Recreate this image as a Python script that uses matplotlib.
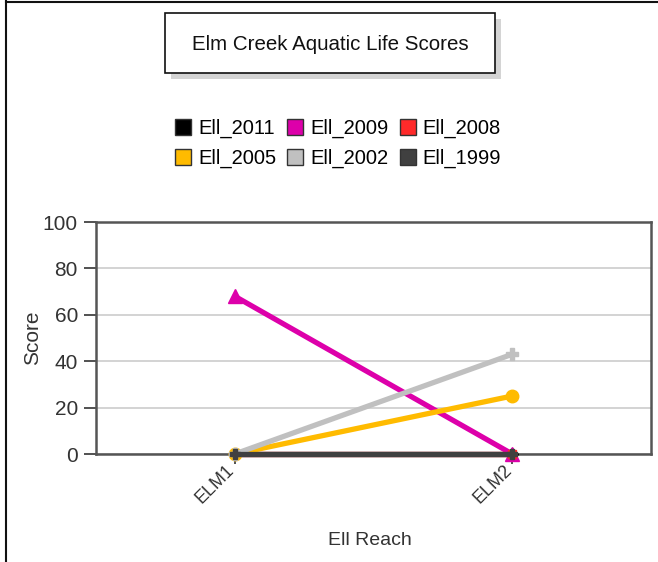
import matplotlib
matplotlib.use("Agg")
import matplotlib.pyplot as plt
from matplotlib.patches import Rectangle
from matplotlib.lines import Line2D

plt.rcParams['font.family'] = ['Liberation Sans', 'DejaVu Sans']

categories = ["ELM1", "ELM2"]
series_names = ["Ell_2011", "Ell_2009", "Ell_2008", "Ell_2005", "Ell_2002", "Ell_1999"]
ell_2011 = [0, 0]
ell_2009 = [68, 0]
ell_2008 = [0, 0]
ell_2005 = [0, 25]
ell_2002 = [0, 43]
ell_1999 = [0, 0]
yticks = [0, 20, 40, 60, 80, 100]

series = [ell_2011, ell_2009, ell_2008, ell_2005, ell_2002, ell_1999]
colors = ["#000000", "#dd00aa", "#ff2a2a", "#ffbb00", "#c0c0c0", "#404040"]
markers = ["D", "^", "s", "o", "P", "P"]
msizes = [6, 10, 6, 9, 9, 7]

W, H = 658, 562
fig = plt.figure(figsize=(W / 100, H / 100), dpi=100)

# outer border (left and top)
fig.add_artist(Line2D([5.5 / W, 5.5 / W], [0, 1 - 1 / H], color="#111111", lw=1.5))
fig.add_artist(Line2D([5.5 / W, 1], [1 - 1.5 / H, 1 - 1.5 / H], color="#111111", lw=1.5))

# title box with shadow
bx0, bx1, by0, by1 = 165, 495, 13, 73
fig.add_artist(Rectangle(((bx0 + 6) / W, 1 - (by1 + 6) / H),
                         (bx1 - bx0) / W, (by1 - by0) / H, transform=fig.transFigure,
                         facecolor="#d4d4d4", edgecolor="none"))
fig.add_artist(Rectangle((bx0 / W, 1 - by1 / H), (bx1 - bx0) / W, (by1 - by0) / H,
                         transform=fig.transFigure, facecolor="white",
                         edgecolor="#111111", lw=1.2))
fig.text((bx0 + bx1) / 2 / W, 1 - 44 / H, "Elm Creek Aquatic Life Scores",
         ha="center", va="center", fontsize=14.8, color="#111111")

ax = fig.add_axes([96 / W, (H - 454) / H, 555 / W, 232 / H])
x = list(range(len(categories)))
for s, c, m, ms in zip(series, colors, markers, msizes):
    ax.plot(x, s, color=c, lw=3.8, marker=m, markersize=ms, solid_capstyle="butt",
            clip_on=False, zorder=3)

ax.set_xlim(-0.5, 1.5)
ax.set_ylim(0, 100)
ax.set_yticks(yticks)
ax.set_xticks(x)
ax.set_xticklabels(categories, rotation=45, ha="right", va="baseline",
                   rotation_mode="anchor", fontsize=13, color="#333333")
ax.tick_params(axis="y", labelsize=15, colors="#333333", length=9, width=1.2,
               direction="out", pad=4)
ax.tick_params(axis="x", length=7, width=1.2, direction="out", colors="#333333", pad=5)
ax.yaxis.grid(True, color="#cccccc", lw=1.2)
ax.set_axisbelow(True)
for sp in ax.spines.values():
    sp.set_color("#555555")
    sp.set_linewidth(1.8)
ax.set_ylabel("Score", fontsize=15, color="#333333")
ax.yaxis.set_label_coords((42 - 96) / 555, 0.5)
ax.set_xlabel("Ell Reach", fontsize=14, color="#333333")
ax.xaxis.set_label_coords((370 - 96) / 555, -(532 - 454) / 232)

order = [0, 3, 1, 4, 2, 5]
handles = [Line2D([], [], ls="none", marker="s", markersize=11, markerfacecolor=colors[i],
                  markeredgecolor="#333333", markeredgewidth=1) for i in order]
labels = [series_names[i] for i in order]
fig.legend(handles, labels, ncol=3, loc="center", bbox_to_anchor=(338 / W, 1 - 143.5 / H),
           frameon=False, fontsize=14.5, handlelength=0.8, handletextpad=0.35,
           columnspacing=0.55, labelspacing=0.55, borderpad=0)

fig.savefig("out.png", dpi=100, facecolor="white")
